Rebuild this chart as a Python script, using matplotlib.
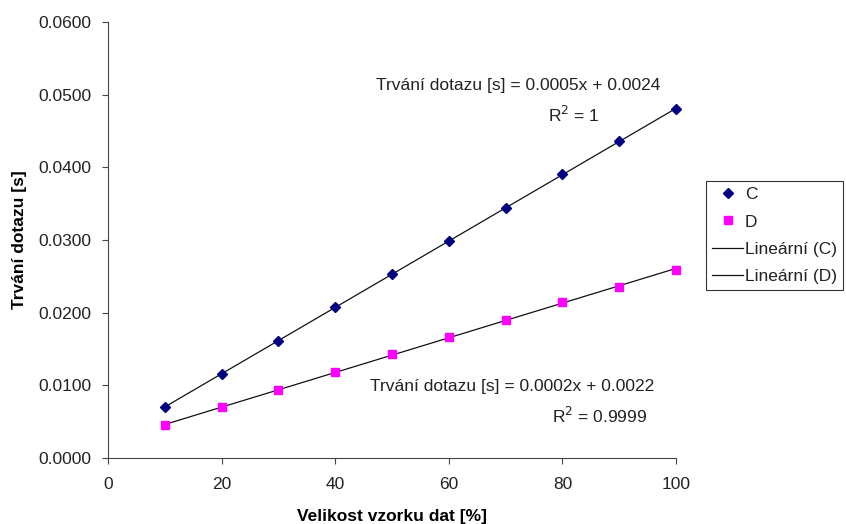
import numpy as np
import matplotlib
matplotlib.use("Agg")
import matplotlib.pyplot as plt
from matplotlib.lines import Line2D

plt.rcParams['font.family'] = ['Liberation Sans', 'DejaVu Sans']

x_vals = [10, 20, 30, 40, 50, 60, 70, 80, 90, 100]
c_vals = [0.0070, 0.0116, 0.0161, 0.0208, 0.0253, 0.0298, 0.0344, 0.0391, 0.0436, 0.0480]
d_vals = [0.0045, 0.0070, 0.0093, 0.0118, 0.0143, 0.0166, 0.0190, 0.0215, 0.0236, 0.0259]
x_ticks = [0, 20, 40, 60, 80, 100]
y_ticks = [0.0, 0.01, 0.02, 0.03, 0.04, 0.05, 0.06]
eq_c = "Trvání dotazu [s] = 0.0005x + 0.0024"
r2_c = "R$^2$ = 1"
eq_d = "Trvání dotazu [s] = 0.0002x + 0.0022"
r2_d = "R$^2$ = 0.9999"

FS = 12.5
TXT = '#222222'

fig = plt.figure(figsize=(8.46, 5.24), dpi=100)
ax = fig.add_axes([108/846, 1-458/524, (676-108)/846, (458-22)/524])

x = np.array(x_vals)
for ys in (c_vals, d_vals):
    p = np.polyfit(x, ys, 1)
    ax.plot(x, np.polyval(p, x), color='#111111', lw=0.9, zorder=2, clip_on=False)
ax.plot(x, c_vals, linestyle='none', marker='D', color='#000080', markersize=5.5, zorder=3, clip_on=False)
ax.plot(x, d_vals, linestyle='none', marker='s', color='#FF00FF', markersize=6, zorder=3, clip_on=False)

ax.set_xlim(0, 100)
ax.set_ylim(0, 0.06)
ax.set_xticks(x_ticks)
ax.set_yticks(y_ticks)
ax.set_yticklabels([f"{v:.4f}" for v in y_ticks])
for s in ('top', 'right'):
    ax.spines[s].set_visible(False)
for s in ('left', 'bottom'):
    ax.spines[s].set_color('#444444')
ax.tick_params(axis='both', direction='out', length=4, color='#444444', labelsize=FS, labelcolor=TXT)
ax.tick_params(axis='x', pad=10)
ax.tick_params(axis='y', pad=8)
ax.set_xlabel("Velikost vzorku dat [%]", fontsize=FS, fontweight='bold', labelpad=12)
ax.set_ylabel("Trvání dotazu [s]", fontsize=FS, fontweight='bold', labelpad=8)

ax.text(97.2, 0.0512, eq_c, ha='right', va='center', fontsize=FS, color=TXT)
ax.text(86.5, 0.0472, r2_c, ha='right', va='center', fontsize=FS, color=TXT)
ax.text(96.2, 0.0099, eq_d, ha='right', va='center', fontsize=FS, color=TXT)
ax.text(95, 0.0058, r2_d, ha='right', va='center', fontsize=FS, color=TXT)

handles = [
    Line2D([], [], linestyle='none', marker='D', color='#000080', markersize=5.5),
    Line2D([], [], linestyle='none', marker='s', color='#FF00FF', markersize=6),
    Line2D([], [], color='#111111', lw=0.9),
    Line2D([], [], color='#111111', lw=0.9),
]
leg = fig.legend(handles, ['C', 'D', 'Lineární (C)', 'Lineární (D)'],
                 loc='upper left', bbox_to_anchor=(706/846, 1-181/524),
                 fontsize=FS, frameon=True, fancybox=False, edgecolor='black',
                 borderpad=0.35, handlelength=1.8, handletextpad=0.1, labelspacing=0.7,
                 borderaxespad=0)
leg.get_frame().set_linewidth(0.8)
for t in leg.get_texts():
    t.set_color(TXT)

fig.savefig("out.png", dpi=100)
